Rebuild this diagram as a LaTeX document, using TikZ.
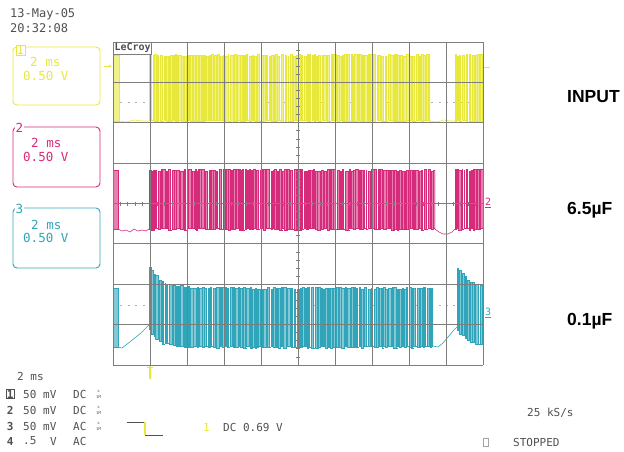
\documentclass[tikz,border=0pt]{standalone}
\usepackage{fontspec}
\newfontfamily\scopefont{DejaVu Sans Mono}
\newfontfamily\labelfont{Liberation Sans}
\definecolor{ChOneClr}{RGB}{232,232,60}
\definecolor{ChTwoClr}{RGB}{214,42,122}
\definecolor{ChThreeClr}{RGB}{48,165,185}
\definecolor{GridClr}{RGB}{125,125,125}
\definecolor{TextClr}{RGB}{80,80,80}

% #1 colour, #2 from, #3 to, #4 top, #5 bottom, #6 seed, #7 count
\newcommand{\pulsetrain}[7]{%
\begin{scope}
\clip (#2,0) rectangle (#3,451);
\pgfmathsetseed{#6}
\xdef\cx{#2}
\foreach \k in {1,...,#7}{
  \pgfmathsetmacro{\wd}{0.6+2.2*rnd}
  \pgfmathsetmacro{\gp}{0.3+1.5*rnd}
  \pgfmathsetmacro{\yt}{#4+1.2*rand}
  \pgfmathsetmacro{\yb}{#5+1.2*rand}
  \pgfmathsetmacro{\nx}{\cx+\wd+\gp}
  \filldraw[fill=#1!60,draw=#1,line width=0.5pt] (\cx,\yb) rectangle (\cx+\wd,\yt);
  \draw[#1,line width=0.5pt] (\cx+\wd,\yb) -- (\nx,\yb);
  \xdef\cx{\nx}
}
\end{scope}}

\begin{document}
\begin{tikzpicture}[x=1pt,y=-1pt,
  gridline/.style={GridClr,line width=0.8pt},
  scopetext/.style={font=\scopefont\fontsize{11}{11}\selectfont,text=TextClr,inner sep=0pt,anchor=west},
  boxtext/.style={font=\scopefont\fontsize{12.5}{12.5}\selectfont,inner sep=0pt,anchor=west},
  chanbox/.style={rounded corners=4pt,line width=0.9pt},
  chandigit/.style={font=\scopefont\bfseries\fontsize{11}{11}\selectfont,text=TextClr,inner sep=0.6pt,anchor=west},
  sidelabel/.style={font=\labelfont\bfseries\fontsize{17.5}{17.5}\selectfont,inner sep=0pt,anchor=west}]
\useasboundingbox (0,0) rectangle (624,451);

% date and time
\node[scopetext,font=\scopefont\fontsize{12}{12}\selectfont] (date) at (10,14) {13-May-05};
\node[scopetext,font=\scopefont\fontsize{12}{12}\selectfont] (time) at (10,28) {20:32:08};

% channel boxes
\draw[chanbox,ChOneClr] (13,47) rectangle (100,105);
\draw[chanbox,ChTwoClr] (13,127) rectangle (100,187);
\draw[chanbox,ChThreeClr] (13,208) rectangle (100,268);
\node[boxtext,text=ChOneClr,draw=ChOneClr,fill=white,inner sep=0.5pt] (one) at (16,50) {1};
\node[boxtext,text=ChTwoClr,fill=white,inner sep=0.5pt] (two) at (15,128) {2};
\node[boxtext,text=ChThreeClr,fill=white,inner sep=0.5pt] (three) at (15,209) {3};
\node[boxtext,text=ChOneClr] (onet) at (30,62) {2 ms};
\node[boxtext,text=ChOneClr] (onev) at (23,76) {0.50 V};
\node[boxtext,text=ChTwoClr] (twot) at (31,143) {2 ms};
\node[boxtext,text=ChTwoClr] (twov) at (23,157) {0.50 V};
\node[boxtext,text=ChThreeClr] (threet) at (31,225) {2 ms};
\node[boxtext,text=ChThreeClr] (threev) at (23,238) {0.50 V};

% ground levels
\draw[GridClr!60,dash pattern=on 2pt off 5.4pt] (113,102) -- (483,102);
\draw[GridClr!60,dash pattern=on 2pt off 5.4pt] (113,305) -- (483,305);

% channel 1
\filldraw[fill=ChOneClr!60,draw=ChOneClr,line width=0.5pt] (113,121) rectangle (119,55);
\draw[ChOneClr,line width=0.6pt] (119,121) -- (126,122) -- (134,120) -- (142,121) -- (149,121);
\pulsetrain{ChOneClr}{149}{430}{55}{121}{11}{160}
\draw[ChOneClr,line width=0.6pt] (430,121) -- (437,122) -- (444,120) -- (450,121) -- (455,121);
\pulsetrain{ChOneClr}{455}{483}{55}{121}{12}{20}

% channel 2
\filldraw[fill=ChTwoClr!60,draw=ChTwoClr,line width=0.5pt] (113,229) rectangle (118,170);
\draw[ChTwoClr,line width=0.6pt] (118,229) -- (122,231) -- (126,230) -- (130,232) -- (134,229) -- (138,231) -- (142,230) -- (146,231) -- (149,229);
\pulsetrain{ChTwoClr}{149}{435}{170}{229}{21}{160}
\draw[ChTwoClr,line width=0.6pt] (435,229) -- (439,232) -- (443,234) -- (448,234) -- (452,232) -- (455,229);
\pulsetrain{ChTwoClr}{455}{483}{170}{229}{22}{20}

% channel 3
\filldraw[fill=ChThreeClr!60,draw=ChThreeClr,line width=0.5pt] (113,347) rectangle (118,288);
\draw[ChThreeClr,line width=0.6pt] (118,347) -- (122,348) -- (126,345) -- (131,341) -- (136,337) -- (141,333) -- (146,328) -- (149,325);
\pulsetrain{ChThreeClr}{149}{433}{288-20*exp(-min((\cx-149)/12,12))}{347-17*exp(-min((\cx-149)/10,12))}{31}{160}
\draw[ChThreeClr,line width=0.6pt] (433,346) -- (438,347) -- (443,343) -- (448,337) -- (453,331) -- (457,327);
\pulsetrain{ChThreeClr}{457}{483}{288-20*exp(-min((\cx-457)/12,12))}{347-17*exp(-min((\cx-457)/10,12))}{32}{20}

% grid
\foreach \i in {0,...,10} \draw[gridline] (113+37*\i,42) -- ++(0,323);
\foreach \j in {0,...,8} \draw[gridline] (113,42+40.375*\j) -- ++(370,0);
\foreach \i in {1,...,49} \draw[gridline] (113+7.4*\i,201.5) -- ++(0,4);
\foreach \j in {1,...,39} \draw[gridline] (296,42+8.075*\j) -- ++(4,0);
\node[scopetext,font=\scopefont\bfseries\fontsize{10}{10}\selectfont,fill=white,inner sep=0.8pt,anchor=north west] (brand) at (113.5,42.5) {LeCroy};
\draw[gridline] (brand.south west) -- (brand.south east) -- (brand.north east);

% markers
\draw[ChOneClr,line width=1pt] (104,66) -- (110,66);
\fill[ChOneClr] (110,66) circle (1.3pt);
\draw[ChOneClr,line width=1pt] (484,67) -- (490,67);
\node[scopetext,text=ChTwoClr,font=\scopefont\fontsize{10}{10}\selectfont] (twom) at (485,203) {\underline{2}};
\node[scopetext,text=ChThreeClr,font=\scopefont\fontsize{10}{10}\selectfont] (threem) at (485,313) {\underline{3}};
\draw[ChOneClr,line width=1.6pt] (150,366) -- (150,379);
\draw[ChOneClr,line width=1pt] (147,367) -- (153,367);

% side labels
\node[sidelabel] (input) at (567,97) {INPUT};
\node[sidelabel] (capa) at (567,210) {6.5µF};
\node[sidelabel] (capb) at (567,321) {0.1µF};

% bottom readout
\node[scopetext] (tdiv) at (17,376) {2 ms};
\node[chandigit,draw=TextClr] (dig1) at (6,394) {1};
\node[chandigit] (dig2) at (6,410) {2};
\node[chandigit] (dig3) at (6,426) {3};
\node[chandigit] (dig4) at (6,441) {4};
\foreach \y/\v/\u/\c in {394/50/mV/DC,410/50/mV/DC,426/50/mV/AC}{
  \node[scopetext] at (23,\y) {\v};
  \node[scopetext] at (43,\y) {\u};
  \node[scopetext] at (73,\y) {\c};
  \node[scopetext,font=\scopefont\fontsize{4}{4}\selectfont,align=center] at (96,\y) {\shortstack{x\\1M}};
}
\node[scopetext] (vfour) at (23,441) {.5};
\node[scopetext] (ufour) at (50,441) {V};
\node[scopetext] (cfour) at (73,441) {AC};

% trigger
\coordinate (ta) at (127,422);
\coordinate (tb) at (145,422);
\coordinate (tc) at (145,435);
\coordinate (td) at (163,435);
\draw[TextClr,line width=0.8pt] (ta) -- (tb);
\draw[ChOneClr,line width=1.2pt] (tb) -- (tc);
\draw[TextClr,line width=0.8pt] (tc) -- (td);
\node[scopetext,text=ChOneClr] (trch) at (203,427) {1};
\node[scopetext] (trlev) at (223,427) {DC 0.69 V};
\node[scopetext] (rate) at (527,413) {25 kS/s};
\draw[GridClr!70,line width=0.6pt] (483,438) rectangle (488,446);
\node[scopetext] (state) at (513,442) {STOPPED};
\end{tikzpicture}
\end{document}
